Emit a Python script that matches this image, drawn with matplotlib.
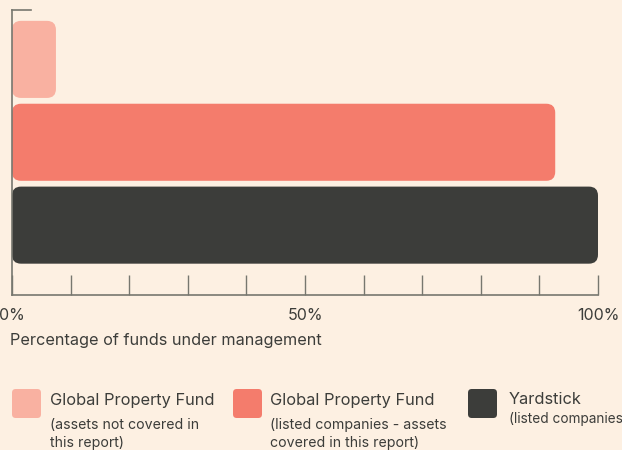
import matplotlib
matplotlib.use("Agg")
import matplotlib.pyplot as plt
from matplotlib.patches import FancyBboxPatch
from matplotlib.lines import Line2D

plt.rcParams['font.family'] = ['Inter', 'DejaVu Sans']

# data
categories = ['Global Property Fund (assets not covered)',
              'Global Property Fund (listed companies)',
              'Yardstick (listed companies)']
values = [7.5, 92.7, 100]
colors = ['#f9b1a1', '#f47c6c', '#3c3d3a']
xticks = [0, 10, 20, 30, 40, 50, 60, 70, 80, 90, 100]
xtick_labels = ['0%', '', '', '', '', '50%', '', '', '', '', '100%']
legend_titles = ['Global Property Fund', 'Global Property Fund', 'Yardstick']
legend_subs = ['(assets not covered in\nthis report)',
               '(listed companies - assets\ncovered in this report)',
               '(listed companies)']

bg = '#fdf0e2'
axis_col = '#77776f'
text_col = '#3c3d3a'

fig = plt.figure(figsize=(6.22, 4.5), dpi=100, facecolor=bg)
ax = fig.add_axes([12/622, 1 - 295/450, 586/622, 285/450])
ax.set_facecolor(bg)

ypos = list(range(len(values)))
bars = ax.barh(ypos, values, height=0.93, color=colors)
ax.set_xlim(0, 100)
ax.set_ylim(2.843, -0.596)

# swap plain bars for rounded ones
xpp = 100 / 586
ypp = (2.843 + 0.596) / 285
for b in bars:
    x0, y0 = b.get_x(), b.get_y()
    w, h = b.get_width(), b.get_height()
    p = FancyBboxPatch((x0, y0), w, h,
                       boxstyle="round,pad=0,rounding_size=%f" % (9 * xpp),
                       mutation_aspect=ypp / xpp,
                       facecolor=b.get_facecolor(), edgecolor='none')
    b.remove()
    ax.add_patch(p)

for s in ['top', 'right']:
    ax.spines[s].set_visible(False)
for s in ['left', 'bottom']:
    ax.spines[s].set_color(axis_col)
    ax.spines[s].set_linewidth(1.2)

ax.set_yticks([])
ax.set_xticks(xticks)
ax.set_xticklabels(xtick_labels)
ax.tick_params(axis='x', direction='in', length=14.4, width=1, color=axis_col,
               labelsize=11.5, labelcolor=text_col, pad=9)
# short mark at the top of the y axis
ax.add_line(Line2D([0, 19 / 586], [1, 1], transform=ax.transAxes,
                   color=axis_col, lw=1.2, clip_on=False))

fig.text(10/622, 1 - 340/450, 'Percentage of funds under management',
         fontsize=11.7, color=text_col, va='center', ha='left')

# legend
sq_x = [12, 233, 468]
txt_x = [50, 270, 509]
sub_y = [418, 418, 412]
for i in range(3):
    fig.patches.append(FancyBboxPatch((sq_x[i]/622, 1 - 418/450), 29/622, 29/450,
                                      boxstyle="round,pad=0,rounding_size=0.006",
                                      mutation_aspect=622/450,
                                      transform=fig.transFigure, figure=fig,
                                      facecolor=colors[i], edgecolor='none'))
    fig.text(txt_x[i]/622, 1 - 400/450, legend_titles[i], fontsize=11.8,
             color=text_col, va='center', ha='left')
    fig.text(txt_x[i]/622, 1 - sub_y[i]/450, legend_subs[i],
             fontsize=10.2 if i < 2 else 9.8,
             color=text_col, va='top', ha='left', linespacing=1.35)

fig.savefig('out.png', dpi=100, facecolor=bg)
